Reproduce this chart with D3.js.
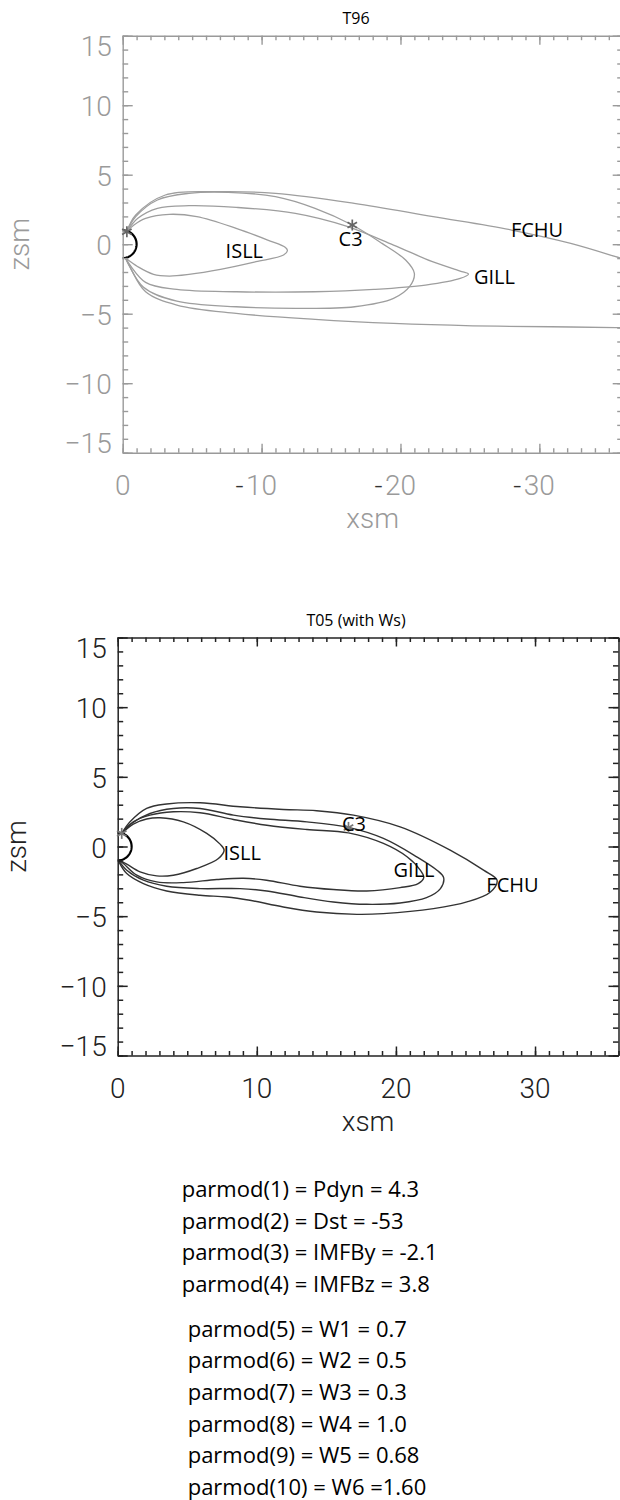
<!DOCTYPE html>
<html>
<head>
<meta charset="utf-8">
<script src="https://cdn.jsdelivr.net/npm/d3@7"></script>
<style>
  html, body { margin: 0; padding: 0; background: #fff; }
  svg { display: block; }
  .tick-label { font-family: Roboto, "DejaVu Sans", sans-serif; font-weight: 300; font-size: 28px; }
  .ann { font-family: "Open Sans", "Noto Sans", sans-serif; }
</style>
</head>
<body>
<svg id="fig" width="620" height="1500"></svg>
<script>
// ---------- axis ticks ----------
const yTicks = [-15, -10, -5, 0, 5, 10, 15];
const xTicksT96 = [0, -10, -20, -30];
const xTicksT05 = [0, 10, 20, 30];

// ---------- T96 field lines (xsm, zsm in Re) ----------
const t96ISLL = [[-0.29,0.9],[-0.81,1.38],[-1.65,1.86],[-3.35,2.15],[-5.34,1.98],[-8.17,1.14],[-10.44,0.30],
  [-11.72,-0.23],[-11.86,-0.47],[-11.58,-0.78],[-9.59,-1.26],[-7.04,-1.81],[-4.77,-2.17],[-3.35,-2.29],
  [-2.22,-2.17],[-1.09,-1.62],[-0.2,-1.0]];
const t96GILL = [[-0.29,0.9],[-1.09,1.86],[-2.5,2.58],[-4.77,2.77],[-8.17,2.65],[-12.43,2.22],[-16.1,1.3],
  [-19.5,-0.06],[-22.3,-1.26],[-24.3,-1.93],[-24.9,-2.15],[-24.3,-2.46],[-21.8,-2.94],[-18.1,-3.25],
  [-13.8,-3.42],[-8.2,-3.42],[-3.9,-3.25],[-1.65,-2.75],[-0.2,-1.0]];
const t96C3 = [[-0.29,0.9],[-0.94,1.98],[-2.5,3.18],[-4.77,3.66],[-7.6,3.73],[-11.0,3.42],[-13.85,2.58],
  [-16.53,1.38],[-18.67,0.06],[-20.37,-1.14],[-21.0,-2.1],[-20.65,-3.06],[-19.5,-3.9],[-16.7,-4.5],
  [-12.43,-4.62],[-8.17,-4.5],[-3.9,-4.1],[-1.5,-3.1],[-0.2,-1.0]];
const t96FCHUNorth = [[-0.29,0.9],[-0.94,2.1],[-3.07,3.54],[-6.76,3.78],[-11.0,3.66],[-16.67,2.94],
  [-22.35,1.98],[-28.0,1.02],[-32.26,0.06],[-35.5,-0.9],[-36.6,-1.25]];
const t96FCHUSouth = [[-36.6,-6.02],[-35.5,-6.0],[-30.85,-5.94],[-25.2,-5.87],[-19.5,-5.7],[-13.85,-5.41],
  [-8.17,-4.98],[-3.9,-4.38],[-1.65,-3.42],[-0.52,-1.62],[-0.2,-1.0]];
const t96Stars = [[-0.3,0.9],[-16.53,1.38]];
const t96Names = ["ISLL","C3","GILL","FCHU"];
const t96NameAt = [[-7.41,-0.97],[-15.54,-0.13],[-25.29,-2.86],[-27.95,0.52]];

// ---------- T05 field lines ----------
const t05ISLL = [[0.29,0.94],[1.12,1.61],[2.08,1.97],[3.04,2.06],[4.72,1.77],[6.4,0.94],[7.36,0.17],
  [7.65,-0.26],[7.24,-0.86],[5.68,-1.58],[4.0,-2.06],[2.8,-2.11],[1.61,-1.82],[0.65,-1.27],[0.09,-0.98]];
const t05GILL = [[0.29,0.94],[1.12,1.77],[2.32,2.25],[4.0,2.49],[5.92,2.42],[8.32,1.94],[10.72,1.53],
  [13.6,1.22],[16.59,0.98],[19.1,0.22],[20.8,-0.74],[21.75,-1.7],[22.0,-2.23],[21.6,-2.66],[20.3,-2.95],
  [17.9,-3.19],[15.5,-3.09],[13.1,-2.85],[10.7,-2.42],[9.04,-2.28],[7.12,-2.37],[4.72,-2.59],[2.8,-2.54],
  [1.37,-2.06],[0.41,-1.22],[0.09,-0.98]];
const t05C3 = [[0.29,0.94],[1.0,1.65],[2.32,2.37],[4.0,2.73],[5.92,2.73],[8.32,2.25],[10.72,1.97],
  [13.6,1.77],[16.59,1.37],[19.1,0.58],[21.5,-0.74],[22.95,-1.7],[23.43,-2.23],[23.2,-3.02],[22.2,-3.67],
  [20.3,-4.05],[17.9,-4.15],[15.5,-3.98],[13.1,-3.62],[10.72,-3.19],[8.8,-3.02],[5.92,-3.02],[3.52,-2.85],
  [1.85,-2.42],[0.65,-1.7],[0.09,-1.03]];
const t05FCHU = [[0.29,0.94],[0.89,1.77],[2.08,2.73],[3.52,3.05],[5.92,3.14],[8.8,2.85],[11.9,2.66],
  [14.3,2.57],[16.95,2.25],[20.3,1.41],[23.9,-0.26],[26.3,-1.7],[27.27,-2.42],[26.8,-3.26],[25.1,-3.98],
  [22.7,-4.46],[19.1,-4.82],[17.2,-4.87],[14.3,-4.7],[11.9,-4.34],[9.5,-3.86],[7.84,-3.62],[5.92,-3.5],
  [3.52,-3.19],[1.85,-2.66],[0.65,-1.94],[0.09,-1.1]];
const t05Stars = [[0.29,0.94],[16.59,1.37]];
const t05Names = ["ISLL","C3","GILL","FCHU"];
const t05NameAt = [[7.6,-0.99],[16.12,1.1],[19.83,-2.21],[26.5,-3.29]];

// ---------- model parameters ----------
const parmodA = ["parmod(1) = Pdyn = 4.3","parmod(2) = Dst = -53","parmod(3) = IMFBy = -2.1","parmod(4) = IMFBz = 3.8"];
const parmodB = ["parmod(5) = W1 = 0.7","parmod(6) = W2 = 0.5","parmod(7) = W3 = 0.3","parmod(8) = W4 = 1.0",
  "parmod(9) = W5 = 0.68","parmod(10) = W6 =1.60"];

const svg = d3.select("#fig");

function panel(o) {
  const g = svg.append("g");
  const [xa, xb] = o.x.range();
  const [yb, yt] = o.y.range();
  const clipId = o.id + "-clip";
  g.append("clipPath").attr("id", clipId).append("rect")
    .attr("x", xa).attr("y", yt).attr("width", xb - xa).attr("height", yb - yt);

  // field lines
  const line = d3.line().x(d => o.x(d[0])).y(d => o.y(d[1])).curve(d3.curveCatmullRom.alpha(0.5));
  g.append("g").attr("clip-path", `url(#${clipId})`)
    .selectAll("path").data(o.curves).join("path")
    .attr("d", line).attr("fill", "none")
    .attr("stroke", o.curveColor).attr("stroke-width", o.curveWidth);

  // Earth (night half)
  const earth = d3.range(-90, 90.1, 3).map(a => [o.sign * Math.cos(a * Math.PI / 180), Math.sin(a * Math.PI / 180)]);
  g.append("path").attr("d", d3.line().x(d => o.x(d[0])).y(d => o.y(d[1]))(earth))
    .attr("fill", "none").attr("stroke", "#000").attr("stroke-width", 2.2);

  // frame and ticks
  const xMinor = d3.range(0, 36.5, 1).map(v => o.sign * v);
  const yMinor = d3.range(-15, 15.5, 1);
  const axes = [
    [d3.axisBottom(o.x), `translate(0,${yb})`, o.xTicks, xMinor, 9, 4.5],
    [d3.axisTop(o.x), `translate(0,${yt})`, o.xTicks, xMinor, 9, 4.5],
    [d3.axisLeft(o.y), `translate(${xa},0)`, yTicks, yMinor, 10, 5.5],
    [d3.axisRight(o.y), `translate(${xb},0)`, yTicks, yMinor, 10, 5.5]
  ];
  axes.forEach(([ax, tr, major, minor, lenMaj, lenMin]) => {
    const ga = g.append("g").attr("transform", tr).attr("color", o.axisColor);
    ga.call(ax.tickValues(major).tickSize(-lenMaj).tickSizeOuter(0).tickFormat(""));
    ga.selectAll("path,line").attr("stroke-width", o.axisWidth);
    const gm = g.append("g").attr("transform", tr).attr("color", o.axisColor);
    gm.call(ax.tickValues(minor).tickSize(-lenMin).tickSizeOuter(0).tickFormat(""));
    gm.select(".domain").remove();
    gm.selectAll("line").attr("stroke-width", o.axisWidth);
  });

  // y tick labels
  g.selectAll(".ylab").data(yTicks).join("text")
    .attr("class", "tick-label").attr("text-anchor", "end").attr("fill", o.textColor)
    .attr("x", xa - 11)
    .attr("y", d => d === 15 ? yt + 20 : d === -15 ? yb : o.y(d) + 11)
    .text(d => d < 0 ? "\u2212" + (-d) : String(d));

  // x tick labels
  const xl = g.selectAll(".xlab").data(o.xTicks).join("g");
  xl.append("text").attr("class", "tick-label").attr("text-anchor", "middle").attr("fill", o.textColor)
    .attr("x", d => o.x(d)).attr("y", yb + 42).text(d => String(Math.abs(d)));
  xl.filter(d => d < 0).append("text").attr("class", "tick-label").attr("text-anchor", "end")
    .attr("fill", o.dashColor)
    .attr("x", d => o.x(d) - 18).attr("y", yb + 42).text("-");

  // axis titles
  g.append("text").attr("class", "tick-label").attr("text-anchor", "middle").attr("fill", o.textColor)
    .attr("x", (xa + xb) / 2).attr("y", yb + 75).text("xsm");
  g.append("text").attr("class", "tick-label").attr("text-anchor", "middle").attr("fill", o.textColor)
    .attr("transform", `translate(${o.zsmX},${(yb + yt) / 2}) rotate(-90)`).text("zsm");

  // plot title
  g.append("text").attr("class", "ann").attr("font-size", 16).attr("text-anchor", "middle")
    .attr("x", o.titleX).attr("y", yt - 12).text(o.title);

  // footpoint / spacecraft markers
  const star = g.selectAll(".star").data(o.stars).join("g")
    .attr("transform", d => `translate(${o.x(d[0])},${o.y(d[1])})`);
  [0, 60, 120].forEach(a => {
    star.append("line").attr("x1", 0).attr("y1", -5.5).attr("x2", 0).attr("y2", 5.5)
      .attr("transform", `rotate(${a})`).attr("stroke", o.starColor).attr("stroke-width", 1.7);
  });

  // station names
  g.selectAll(".name").data(o.names).join("text")
    .attr("class", "ann").attr("font-size", 20).attr("fill", "#000")
    .attr("x", (d, i) => o.x(o.nameAt[i][0])).attr("y", (d, i) => o.y(o.nameAt[i][1]))
    .text(d => d);
}

panel({
  id: "t96", title: "T96", titleX: 356, sign: -1,
  x: d3.scaleLinear([0, -36], [122.7, 622.7]),
  y: d3.scaleLinear([-15, 15], [452.7, 35.7]),
  xTicks: xTicksT96,
  curves: [t96ISLL, t96GILL, t96C3, t96FCHUNorth, t96FCHUSouth],
  curveColor: "#9e9e9e", curveWidth: 1.3,
  axisColor: "#9a9a9a", axisWidth: 1.4, textColor: "#9a9a9a", dashColor: "#333",
  starColor: "#666",
  stars: t96Stars, names: t96Names, nameAt: t96NameAt, zsmX: 29
});

panel({
  id: "t05", title: "T05 (with Ws)", titleX: 356, sign: 1,
  x: d3.scaleLinear([0, 36], [117.7, 618.5]),
  y: d3.scaleLinear([-15, 15], [1055.5, 637.5]),
  xTicks: xTicksT05,
  curves: [t05ISLL, t05GILL, t05C3, t05FCHU],
  curveColor: "#333", curveWidth: 1.4,
  axisColor: "#222", axisWidth: 1.5, textColor: "#222", dashColor: "#222",
  starColor: "#777",
  stars: t05Stars, names: t05Names, nameAt: t05NameAt, zsmX: 26
});

// parameter list
const pg = svg.append("g").attr("class", "ann").attr("font-size", 22).attr("fill", "#000");
pg.selectAll(".pa").data(parmodA).join("text")
  .attr("x", 181.7).attr("y", (d, i) => 1197.3 + i * 31.5).text(d => d);
pg.selectAll(".pb").data(parmodB).join("text")
  .attr("x", 187.7).attr("y", (d, i) => 1336.7 + i * 31.6).text(d => d);
</script>
</body>
</html>
